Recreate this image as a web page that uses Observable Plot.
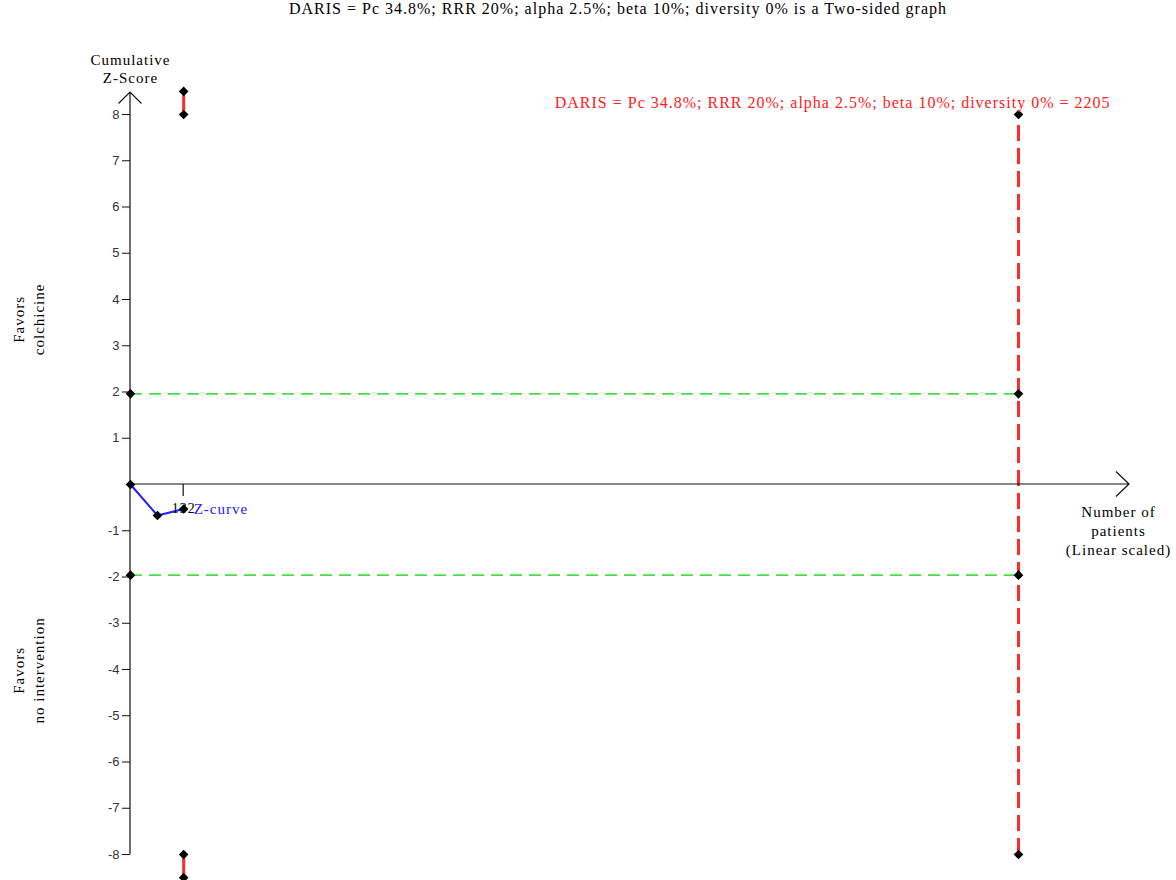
<!DOCTYPE html>
<html>
<head>
<meta charset="utf-8">
<script src="https://cdn.jsdelivr.net/npm/d3@7"></script>
<script src="https://cdn.jsdelivr.net/npm/@observablehq/plot@0.6"></script>
<style>
  body { margin: 0; background: #fff; }
  #title {
    height: 30px; line-height: 30px;
    width: 1116px; padding-left: 60px;
    text-align: center;
    font: 16px "Liberation Serif", serif;
    letter-spacing: 1px;
    color: #000;
  }
  #chart svg text { letter-spacing: 1px; }
  #chart svg g.tick-labels text { letter-spacing: 0; }
</style>
</head>
<body>
<div id="title">DARIS = Pc 34.8%; RRR 20%; alpha 2.5%; beta 10%; diversity 0% is a Two-sided graph</div>
<div id="chart"></div>
<script>
// Trial sequential analysis settings
const risLabel = "DARIS = Pc 34.8%; RRR 20%; alpha 2.5%; beta 10%; diversity 0%";
const requiredSize = 2205;          // diversity-adjusted required information size
const zLimit = 8;                   // z-axis drawn from -8 to 8

// Cumulative Z-curve (patients, z)
const zPatients = [0, 67, 132];
const zScores = [0, -0.67, -0.53];

// Conventional two-sided 5% boundaries
const conventionalZ = [1.96, -1.96];

// Monitoring boundary at the first look (clipped beyond the axis)
const boundaryPatients = 132;
const boundaryUpper = [8, 8.5];
const boundaryLower = [-8, -8.5];

// Ticks
const yTicks = [-8, -7, -6, -5, -4, -3, -2, -1, 1, 2, 3, 4, 5, 6, 7, 8];
const xTicks = [132];

const curve = zPatients.map((n, i) => ({n, z: zScores[i]}));
const risDots = [zLimit, conventionalZ[0], conventionalZ[1], -zLimit].map(z => ({n: requiredSize, z}));
const originDots = conventionalZ.map(z => ({n: 0, z}));
const boundaryDots = [...boundaryUpper, ...boundaryLower].map(z => ({n: boundaryPatients, z}));

const serif = "Liberation Serif, Times New Roman, serif";
const sans = "Liberation Sans, Arial, sans-serif";

// Axis lines with open arrowheads, plus the x tick, drawn through the scales
function axesWithArrows(index, {x, y}) {
  const x0 = x(0), y0 = y(0);
  const yTop = y(zLimit) - 22, yBot = y(-zLimit);
  const xEnd = x(requiredSize) + 111;
  const g = d3.create("svg:g")
    .attr("fill", "none")
    .attr("stroke", "#111")
    .attr("stroke-width", 1.2);
  g.append("path").attr("d",
    `M${x0},${yBot}V${yTop}M${x0 - 11.5},${yTop + 11.5}L${x0},${yTop}L${x0 + 11.5},${yTop + 11.5}`);
  g.append("path").attr("d",
    `M${x0},${y0}H${xEnd}M${xEnd - 13},${y0 - 12.5}L${xEnd},${y0}L${xEnd - 13},${y0 + 12.5}`);
  for (const t of xTicks) {
    g.append("path").attr("d", `M${x(t)},${y0}V${y0 + 12}`);
  }
  return g.node();
}

const label = {fontSize: 15, fill: "#000"};

const chart = Plot.plot({
  width: 1176,
  height: 850,
  marginLeft: 130,
  marginRight: 158,
  marginTop: 84,
  marginBottom: 26,
  x: {domain: [0, requiredSize], axis: null},
  y: {domain: [-zLimit, zLimit], axis: null},
  style: {fontFamily: serif, fontSize: "15px", background: "#fff", color: "#000", overflow: "visible"},
  marks: [
    // conventional boundaries
    Plot.ruleY(conventionalZ, {x1: 0, x2: requiredSize, stroke: "#44e044", strokeWidth: 1.6, strokeDasharray: "12,7"}),
    // required information size
    Plot.ruleX([requiredSize], {y1: -zLimit, y2: zLimit, stroke: "#ff2a2a", strokeWidth: 3, strokeDasharray: "16,7"}),
    // monitoring boundary segments
    Plot.ruleX([boundaryPatients], {y1: boundaryUpper[0], y2: boundaryUpper[1], stroke: "#ff2a2a", strokeWidth: 3}),
    Plot.ruleX([boundaryPatients], {y1: boundaryLower[0], y2: boundaryLower[1], stroke: "#ff2a2a", strokeWidth: 3}),
    axesWithArrows,
    Plot.axisY(yTicks, {
      label: null,
      tickSize: 8, tickPadding: 3, tickFormat: d => String(d),
      fontFamily: sans, fontSize: 13, fill: "#333", stroke: "#111"
    }),
    // Z-curve
    Plot.line(curve, {x: "n", y: "z", stroke: "#2020ff", strokeWidth: 2}),
    Plot.dot([...curve, ...originDots, ...risDots, ...boundaryDots],
      {x: "n", y: "z", symbol: "diamond2", r: 3.4, fill: "#000", stroke: "#000"}),
    // x tick label
    Plot.text(xTicks, {x: d => d, y: 0, dy: 24, text: d => String(d), fontSize: 14, fill: "#000"}),
    Plot.text(["Z-curve"], {x: zPatients[zPatients.length - 1], y: zScores[zScores.length - 1], dx: 10,
      textAnchor: "start", fill: "#2020ff", fontSize: 15}),
    // RIS label
    Plot.text([`${risLabel} = ${requiredSize}`], {x: requiredSize, y: zLimit, dx: 92, dy: -12,
      textAnchor: "end", fill: "#ff2020", fontSize: 16}),
    // axis titles
    Plot.text(["Cumulative\nZ-Score"], {x: 0, y: zLimit, dy: -46.5, lineHeight: 1.25, ...label}),
    Plot.text(["Number of\npatients\n(Linear scaled)"], {x: requiredSize, y: 0, dx: 100, dy: 45, lineHeight: 1.27, ...label}),
    Plot.text(["Favors\ncolchicine"], {x: 0, y: 3.57, dx: -103, rotate: -90, lineHeight: 1.33, ...label}),
    Plot.text(["Favors\nno intervention"], {x: 0, y: -4.02, dx: -103, rotate: -90, lineHeight: 1.33, ...label})
  ]
});

// tick labels of the z-axis keep normal spacing
d3.select(chart).selectAll("g[font-family^='Liberation Sans']").classed("tick-labels", true);

document.getElementById("chart").appendChild(chart);
</script>
</body>
</html>
